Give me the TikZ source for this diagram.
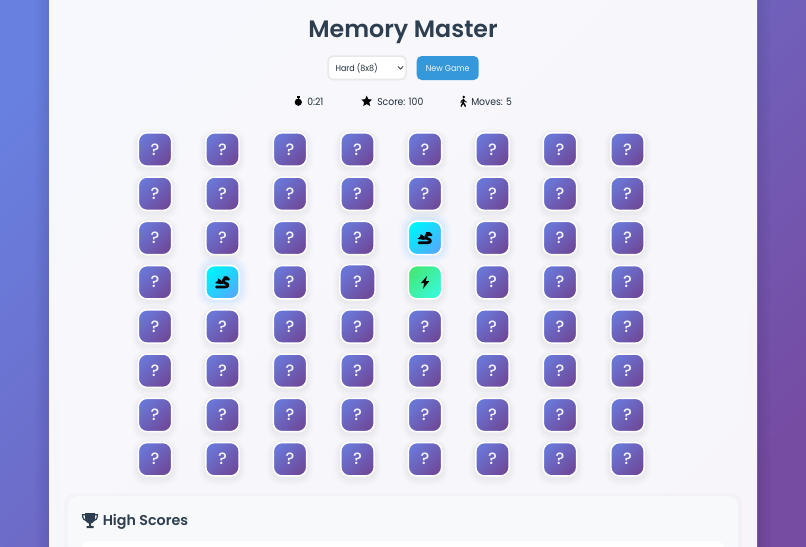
\documentclass[tikz,border=0pt]{standalone}
\usepackage{fontspec}
\setmainfont{Poppins}
\newfontfamily\popsb{Poppins SemiBold}
\newfontfamily\popmd{Poppins Medium}
\newfontfamily\popnar[FakeStretch=0.92]{Poppins}
\definecolor{ink}{HTML}{2C3E50}
\definecolor{bgA}{HTML}{6880E0}
\definecolor{bgB}{HTML}{764BA2}
\definecolor{qA}{HTML}{6A76D6}
\definecolor{qB}{HTML}{6E4A9B}
\definecolor{btn}{HTML}{3498DB}
\definecolor{cyA}{HTML}{00F2FE}
\definecolor{cyB}{HTML}{4FACFE}
\definecolor{grA}{HTML}{43E97B}
\definecolor{grB}{HTML}{38F9D7}
\definecolor{selb}{HTML}{E8E8E8}
\definecolor{hsbg}{HTML}{F8F9FA}
\tikzset{
  px/.style={x=0.75pt,y=-0.75pt},
  softshadow/.style={
    preaction={draw=black,draw opacity=.010,line width=10pt,transform canvas={yshift=-2pt}},
    preaction={draw=black,draw opacity=.014,line width=7pt,transform canvas={yshift=-2pt}},
    preaction={draw=black,draw opacity=.018,line width=4pt,transform canvas={yshift=-1.5pt}}},
  cardbase/.style={rectangle,rounded corners=6.5pt,minimum size=25pt,inner sep=0pt,draw=white,line width=1.1pt},
  qcard/.style={cardbase,softshadow,top color=qA,bottom color=qB,shading angle=45,text=white!90!qA,font=\popmd\fontsize{12.3}{12}\selectfont},
  bigcard/.style={qcard,minimum size=26.3pt},
  cyancard/.style={cardbase,top color=cyA,bottom color=cyB,shading angle=45,
    preaction={draw=cyB,draw opacity=.03,line width=14pt},
    preaction={draw=cyB,draw opacity=.05,line width=10pt},
    preaction={draw=cyB,draw opacity=.07,line width=6pt}},
  greencard/.style={cardbase,softshadow,top color=grA,bottom color=grB,shading angle=45},
  ctl/.style={rectangle,rounded corners=3.75pt,inner sep=0pt,minimum height=17.6pt},
  stat/.style={inner sep=0pt,anchor=base west,text=ink!75!black,font=\popnar\fontsize{7.55}{10}\selectfont},
  smalltext/.style={inner sep=0pt,font=\popnar\fontsize{6.45}{8}\selectfont},
}
\newcommand{\dragonicon}[2]{%
  \begin{scope}[shift={(#1,#2)}]
    \draw[black,line width=2pt,line cap=round,line join=round]
      (-6,4.8) -- (2.5,4.8) .. controls (6.5,4.8) and (6.5,1.2) .. (2.5,0.8) .. controls (0,0.4) and (0,-2.5) .. (2,-3.8);
    \fill[black] (-7.5,0.8) -- (-5,-1.2) -- (-4.2,-3.8) -- (-1.5,-2) -- (1,1.5) -- (-2,1.8) -- cycle;
    \fill[black] (1,-5.8) -- (4.5,-6) -- (7.5,-3.2) -- (6.5,-1.8) -- (2,-2) -- cycle;
  \end{scope}}
\begin{document}
\begin{tikzpicture}[px]
\useasboundingbox (0,0) rectangle (806,546);
\clip (0,0) rectangle (806,546);
\shade[top color=bgA,bottom color=bgB,shading angle=45] (-60,-60) rectangle (866,606);
% page panel with soft shadow
\foreach \wd in {20,15,10,5}{\draw[black,draw opacity=.018,line width=\wd pt,rounded corners=15pt] (49,-40) rectangle (757,620);}
\fill[white,fill opacity=.95,rounded corners=15pt] (49,-40) rectangle (757,620);
% title and controls
\node[inner sep=0pt,anchor=base,text=ink,font=\popsb\fontsize{17.8}{22}\selectfont] (title) at (403,37.5) {Memory Master};
\node[ctl,draw=selb,line width=1.2pt,fill=white,minimum width=58.5pt] (sel) at (367.1,67.8) {};
\node[smalltext,anchor=base west,text=ink!70!black] (hard) at (335.3,71) {Hard (8x8)};
\draw[black!75,line width=.7pt] (398,66.5) -- (400.5,69) -- (403,66.5);
\node[ctl,fill=btn,minimum width=46.5pt,minimum height=18pt] (newgame) at (447.7,68) {};
\node[smalltext,anchor=base,text=white!92!btn] (newgamelbl) at (447.6,71) {New Game};
% stats
\fill[black] (298.3,102.2) circle (3.6);
\fill[black] (296.6,96.4) rectangle (300,97.5);
\fill[black] (297.7,96.8) rectangle (298.9,99);
\node[stat] (time) at (307,105) {0:21};
\fill[black] (366.7,95.6) -- (368.3,99.2) -- (372,99.6) -- (369.3,102.2) -- (370.1,106) -- (366.7,104.1) -- (363.3,106) -- (364.1,102.2) -- (361.4,99.6) -- (365.1,99.2) -- cycle;
\node[stat] (score) at (377,105) {Score: 100};
\fill[black] (463.7,97) circle (1.4);
\draw[black,line width=1.1pt,line cap=round,line join=round] (463.4,99.3) -- (463,102.5) -- (464.8,105) -- (465.2,106.2);
\draw[black,line width=1pt,line cap=round] (463,102.5) -- (461.2,106.2);
\draw[black,line width=.7pt,line cap=round,line join=round] (463.4,99.6) -- (461.2,101.2) -- (461,102.8);
\draw[black,line width=.7pt,line cap=round,line join=round] (463.6,99.6) -- (465,101.5) -- (466.4,102);
\node[stat] (moves) at (471,105) {Moves: 5};
% board
\foreach \rw/\yy in {1/149.5,2/193.75,3/238,4/282.25,5/326.5,6/370.75,7/415,8/459.25}{
  \foreach \cl/\xx in {1/155,2/222.5,3/290,4/357.5,5/425,6/492.5,7/560,8/627.5}{
    \pgfmathtruncatemacro{\kk}{\rw*10+\cl}
    \ifnum\kk=35\relax
      \node[cyancard] (card\rw-\cl) at (\xx,\yy) {};
    \else\ifnum\kk=42\relax
      \node[cyancard] (card\rw-\cl) at (\xx,\yy) {};
    \else\ifnum\kk=45\relax
      \node[greencard] (card\rw-\cl) at (\xx,\yy) {};
    \else\ifnum\kk=44\relax
      \node[bigcard] (card\rw-\cl) at (\xx,\yy) {?};
    \else
      \node[qcard] (card\rw-\cl) at (\xx,\yy) {?};
    \fi\fi\fi\fi
  }
}
\dragonicon{425}{238}
\dragonicon{222.5}{282.25}
\fill[black] (427,276) -- (420.8,283.2) -- (424.2,283.2) -- (423,288.8) -- (429.2,281.2) -- (425.8,281.2) -- cycle;
% high scores
\fill[black,fill opacity=.015,rounded corners=8pt] (64,493) rectangle (742,600);
\fill[hsbg,rounded corners=7.5pt] (68,496) rectangle (738,600);
\fill[white,rounded corners=6pt] (82,541) rectangle (724,600);
\node[inner sep=0pt,anchor=base west,text=ink,font=\popsb\fontsize{10.7}{14}\selectfont] (hs) at (102.5,525.5) {High Scores};
\fill[ink] (85,513) -- (95,513) -- (95,519) .. controls (95,522) and (92,523) .. (91,523.5) -- (91,526) -- (93.5,526) -- (93.5,528) -- (86.5,528) -- (86.5,526) -- (89,526) -- (89,523.5) .. controls (88,523) and (85,522) .. (85,519) -- cycle;
\draw[ink,line width=.9pt] (85,514.8) -- (82.6,514.8) .. controls (82.6,518.5) and (84,520.5) .. (86.5,521);
\draw[ink,line width=.9pt] (95,514.8) -- (97.4,514.8) .. controls (97.4,518.5) and (96,520.5) .. (93.5,521);
\end{tikzpicture}
\end{document}
